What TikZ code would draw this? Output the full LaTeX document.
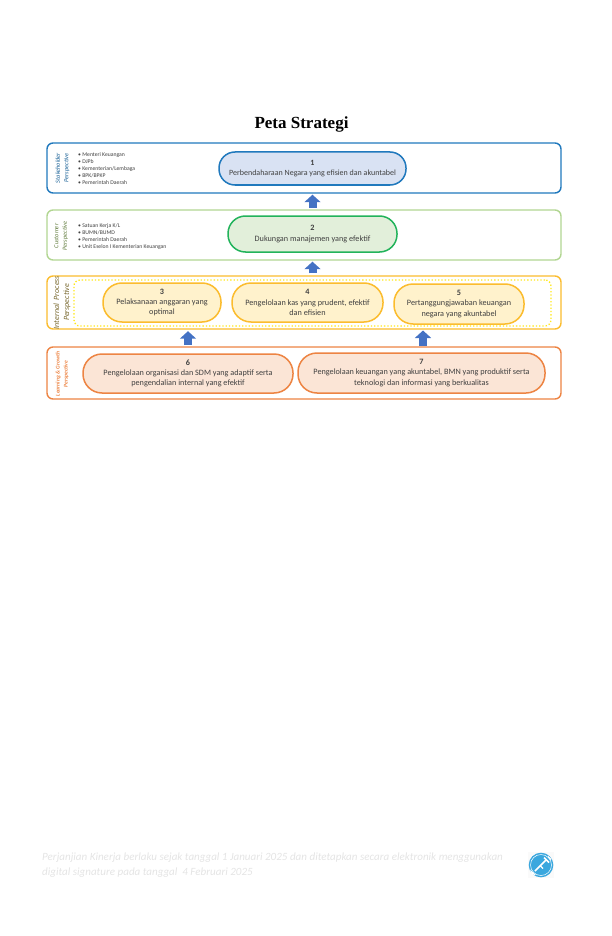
\documentclass[tikz,border=0pt]{standalone}
\usepackage{fontspec}
\setmainfont{Carlito}
\newfontfamily\titlefont{Liberation Serif}
\usepackage{xcolor}
\usetikzlibrary{arrows.meta, calc}
\definecolor{blueline}{HTML}{2079BD}
\definecolor{bluefill}{HTML}{D9E2F3}
\definecolor{greenband}{HTML}{B2D692}
\definecolor{greenline}{HTML}{22B35B}
\definecolor{greenfill}{HTML}{E2EFDA}
\definecolor{yellowline}{HTML}{FBBC2E}
\definecolor{yellowfill}{HTML}{FFF2CC}
\definecolor{dotline}{HTML}{FFE81A}
\definecolor{orangeline}{HTML}{ED8443}
\definecolor{orangefill}{HTML}{FBE5D6}
\definecolor{arrowblue}{HTML}{4472C4}
\definecolor{footgrey}{HTML}{E4E4E4}
\definecolor{textgrey}{HTML}{404040}
\definecolor{oliveline}{HTML}{5F7A3A}
\definecolor{brownline}{HTML}{7A6A30}
\definecolor{iconblue}{HTML}{3AA7DE}
\tikzset{
  band/.style={draw, line width=1.4pt, fill=white, rounded corners=6pt, inner sep=0pt},
  goal/.style={draw, line width=1.5pt, rounded corners=19pt, inner sep=0pt, align=center,
    text=textgrey, font=\fontsize{8.2}{10.4}\selectfont},
  stakelist/.style={anchor=west, align=left, inner sep=0pt, text=textgrey,
    font=\fontsize{5.7}{6.8}\selectfont},
  persp/.style={rotate=90, align=center, inner sep=0pt, font=\itshape\fontsize{6.3}{8.5}\selectfont},
  uparrow/.style={-{Triangle[length=7.5pt, width=16pt]}, line width=8pt, arrowblue},
  footnote/.style={anchor=west, inner sep=0pt, text=footgrey, font=\itshape\fontsize{11.05}{14}\selectfont}
}
\begin{document}
\begin{tikzpicture}[x=1pt, y=-1pt]
\useasboundingbox (0, 0) rectangle (612, 936);
\node[inner sep=0pt, font=\titlefont\bfseries\fontsize{17}{20}\selectfont] at (301.5, 124.5) (title) {Peta Strategi};
% bands
\node[band, draw=blueline, minimum width=514pt, minimum height=50pt] at (304, 168) (stakeholder) {};
\node[band, draw=greenband, minimum width=514pt, minimum height=50pt] at (304, 235) (customer) {};
\node[band, draw=yellowline, minimum width=514pt, minimum height=53pt] at (304, 302.5) (internal) {};
\node[band, draw=orangeline, minimum width=514pt, minimum height=52pt] at (304, 373) (learning) {};
\node[draw=dotline, line width=1.3pt, dotted, rounded corners=6pt, minimum width=477pt, minimum height=46pt, inner sep=0pt] at (312.5, 303) (inner) {};
% side labels
\node[persp, text=blueline!80!black] at (62.5, 168) (stakelabel) {Stakeholder\\Perspective};
\node[persp, text=oliveline] at (61, 236) (custlabel) {Customer\\Perspective};
\node[persp, text=brownline, font=\itshape\fontsize{8}{10}\selectfont] at (62, 302.5) (intlabel) {Internal~~Process\\Perspective};
\node[persp, text=orangeline, font=\itshape\bfseries\fontsize{5.6}{8}\selectfont] at (62, 374) (learnlabel) {Learning \&~Growth\\Perspective};
% lists
\node[stakelist] at (78, 168.5) (stakelist) {\textbullet\ Menteri Keuangan\\\textbullet\ DJPb\\\textbullet\ Kementerian/Lembaga\\\textbullet\ BPK/BPKP\\\textbullet\ Pemerintah Daerah};
\node[stakelist] at (78, 236.5) (custlist) {\textbullet\ Satuan Kerja K/L\\\textbullet\ BUMN/BUMD\\\textbullet\ Pemerintah Daerah\\\textbullet\ Unit Eselon I Kementerian Keuangan};
% goals
\node[goal, draw=blueline, fill=bluefill, rounded corners=16pt, font=\fontsize{8}{10.4}\selectfont, minimum width=187pt, minimum height=33pt] at (312.5, 168.5) (g1) {\textbf{1}\\Perbendaharaan Negara yang efisien dan akuntabel};
\node[goal, draw=greenline, fill=greenfill, rounded corners=17.5pt, minimum width=169pt, minimum height=36pt] at (312.5, 234) (g2) {\textbf{2}\\Dukungan manajemen yang efektif};
\node[goal, draw=yellowline, fill=yellowfill, minimum width=118pt, minimum height=39pt] at (162, 302.5) (g3) {\textbf{3}\\Pelaksanaan anggaran yang\\optimal};
\node[goal, draw=yellowline, fill=yellowfill, minimum width=151pt, minimum height=39pt] at (307.5, 302.5) (g4) {\textbf{4}\\Pengelolaan kas yang prudent, efektif\\dan efisien};
\node[goal, draw=yellowline, fill=yellowfill, minimum width=130pt, minimum height=40pt] at (459, 304) (g5) {\textbf{5}\\Pertanggungjawaban keuangan\\negara yang akuntabel};
\node[goal, draw=orangeline, fill=orangefill, minimum width=210pt, minimum height=39pt] at (188, 373.5) (g6) {\textbf{6}\\Pengelolaan organisasi dan SDM yang adaptif serta\\pengendalian internal yang efektif};
\node[goal, draw=orangeline, fill=orangefill, minimum width=247pt, minimum height=40pt] at (421.5, 373) (g7) {\textbf{7}\\Pengelolaan keuangan yang akuntabel, BMN yang produktif serta\\teknologi dan informasi yang berkualitas};
% arrows
\coordinate (a3) at (g6 |- learning.north);
\coordinate (b3) at (g6 |- internal.south);
\coordinate (a4) at (423, 345.5);
\coordinate (b4) at (423, 330.5);
\draw[uparrow] ($(g2 |- customer.north)+(0,-1.5)$) -- ($(g1 |- stakeholder.south)+(0,1)$);
\draw[uparrow] ($(g2 |- internal.north)+(0,-2)$) -- ($(g2 |- customer.south)+(0,1)$);
\draw[uparrow] ($(a3)+(0,-1.5)$) -- ($(b3)+(0,1.5)$);
\draw[uparrow] (a4) -- (b4);
% footer
\node[footnote] at (42, 858) (foot1) {Perjanjian Kinerja berlaku sejak tanggal 1 Januari 2025 dan ditetapkan secara elektronik menggunakan};
\node[footnote] at (42, 872.5) (foot2) {digital signature pada tanggal~~4 Februari 2025};
% key icon
\fill[black!2] (528, 852) rectangle (554, 878);
\fill[iconblue] (541, 865) circle (12.3);
\draw[white, line width=0.5pt] (541, 865) circle (10.5);
\draw[white, line width=1.5pt] (535, 871) -- (546, 860);
\draw[white, line width=1.5pt] (544, 857.5) -- (549, 862.5);
\draw[white, line width=1.2pt] (548, 856.5) -- (551, 859.5);
\draw[white, line width=1.2pt] (540, 865.5) -- (543, 868.5);
\fill[white] (530, 869.5) -- (536, 875) -- (532, 874.5) -- cycle;
\end{tikzpicture}
\end{document}
